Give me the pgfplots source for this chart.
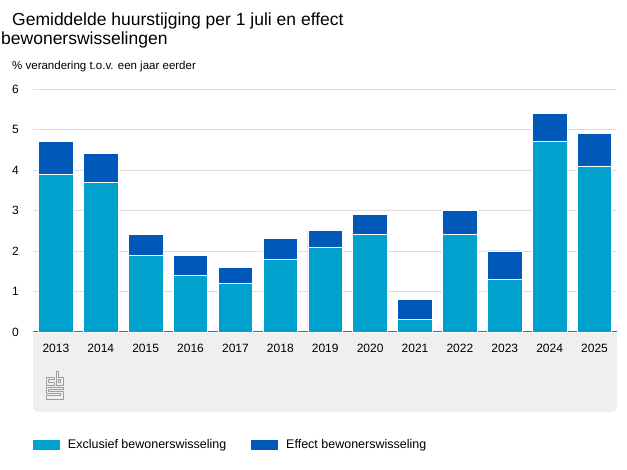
\documentclass[border=0pt]{standalone}
\usepackage{pgfplots}
\pgfplotsset{compat=1.18}
\usepackage{fontspec}
\setmainfont{Liberation Sans}
\definecolor{cbslight}{HTML}{00A1CD}
\definecolor{cbsdark}{HTML}{0058B8}
\definecolor{panel}{HTML}{EFEFEF}
\definecolor{gridc}{HTML}{DCDCDC}
\definecolor{axc}{HTML}{666666}
\begin{document}
\begin{tikzpicture}
  \path[use as bounding box] (0pt,0pt) rectangle (627pt,470pt);
  % grey panel below the axis
  \fill[panel, rounded corners=6pt] (33pt,58pt) rectangle (617pt,137pt);
  \fill[panel] (33pt,110pt) rectangle (617pt,137pt);
  % cbs logo (rough)
  \begin{scope}[draw=gray!75, line width=0.8pt, x=1pt, y=1pt]
    \draw (54,93) -- (46,93) -- (46,85) -- (54,85) -- (54,87.5) -- (48.5,87.5) -- (48.5,90.5) -- (54,90.5) -- cycle;
    \draw (56,99) -- (56,85) -- (63,85) -- (63,93) -- (58.5,93) -- (58.5,99) -- cycle;
    \draw (58.5,87.5) rectangle (60.5,90.5);
    \draw (63,83) -- (46,83) -- (46,76.5) -- (60.5,76.5) -- (60.5,74.5) -- (46,74.5) -- (46,71) -- (63,71) -- (63,79) -- (48.5,79) -- (48.5,80.5) -- (63,80.5) -- cycle;
  \end{scope}
  % titles
  \node[anchor=base west, inner sep=0pt, font=\fontsize{17.5}{20}\selectfont] at (12pt,444pt) {Gemiddelde huurstijging per 1 juli en effect};
  \node[anchor=base west, inner sep=0pt, font=\fontsize{17.5}{20}\selectfont] at (1pt,425pt) {bewonerswisselingen};
  \node[anchor=base west, inner sep=0pt, font=\fontsize{11.5}{13}\selectfont] at (12pt,400pt) {\% verandering t.o.v. een jaar eerder};
  \begin{axis}[
    at={(33pt,138pt)}, anchor=south west,
    scale only axis,
    width=584pt, height=243pt,
    ybar stacked,
    bar width=34.5pt,
    ymin=0, ymax=6,
    xmin=-0.51, xmax=12.5,
    ytick={1,2,3,4,5,6},
    extra y ticks={0},
    extra y tick style={grid=none},
    xtick=data,
    xticklabels={2013,2014,2015,2016,2017,2018,2019,2020,2021,2022,2023,2024,2025},
    ymajorgrids,
    grid style={gridc, line width=0.8pt},
    axis line style={draw=none},
    major tick length=0pt,
    tick style={draw=none},
    /pgf/number format/assume math mode=true,
    tick label style={font=\fontsize{12}{14}\selectfont},
    xticklabel style={anchor=center, yshift=-16pt},
    yticklabel style={anchor=west, inner sep=0pt, xshift=-21pt},
    legend columns=2,
    legend style={draw=none, fill=none, at={(0,-0.465)}, anchor=west,
      inner sep=0pt, font=\fontsize{12.5}{14}\selectfont,
      nodes={inner ysep=0pt, inner xsep=8pt},
      /tikz/every even column/.append style={column sep=17pt}},
    legend cell align=left,
  ]
    \addplot[fill=cbslight, draw=white, line width=0.8pt,
      legend image code/.code={\fill[cbslight] (0pt,-4.5pt) rectangle (26pt,4.5pt);}]
      coordinates {(0,3.9) (1,3.7) (2,1.9) (3,1.4) (4,1.2) (5,1.8) (6,2.1)
                   (7,2.4) (8,0.3) (9,2.4) (10,1.3) (11,4.7) (12,4.1)};
    \addlegendentry{Exclusief bewonerswisseling}
    \addplot[fill=cbsdark, draw=white, line width=0.8pt,
      legend image code/.code={\fill[cbsdark] (0pt,-4.5pt) rectangle (26pt,4.5pt);}]
      coordinates {(0,0.8) (1,0.7) (2,0.5) (3,0.5) (4,0.4) (5,0.5) (6,0.4)
                   (7,0.5) (8,0.5) (9,0.6) (10,0.7) (11,0.7) (12,0.8)};
    \addlegendentry{Effect bewonerswisseling}
    \draw[axc, line width=2pt] (rel axis cs:0,0) -- (rel axis cs:1,0);
  \end{axis}
\end{tikzpicture}
\end{document}
